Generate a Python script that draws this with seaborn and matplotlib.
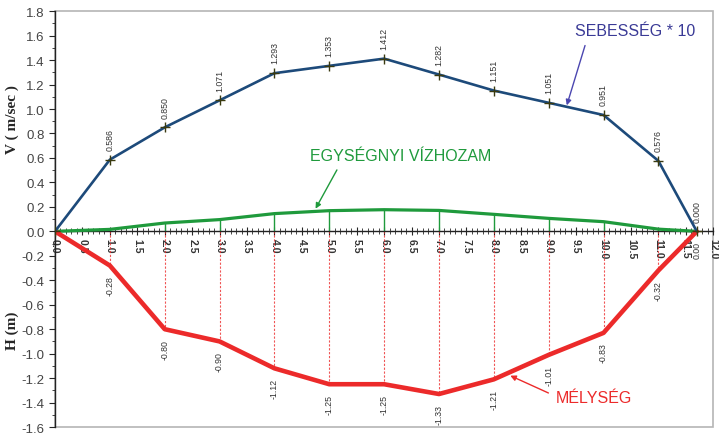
import matplotlib
matplotlib.use("Agg")
import matplotlib.pyplot as plt
import matplotlib.patches as mpatches
from matplotlib.ticker import MultipleLocator, FormatStrFormatter
import numpy as np
import pandas as pd
import seaborn as sns

# Station positions across the cross-section (m)
stations = [0.0, 1.0, 2.0, 3.0, 4.0, 5.0, 6.0, 7.0, 8.0, 9.0, 10.0, 11.0, 11.7]
# Velocity (m/sec, shown x10)
velocity = [0.0, 0.586, 0.850, 1.071, 1.293, 1.353, 1.412, 1.282, 1.151, 1.051, 0.951, 0.576, 0.000]
# Water depth (m)
depth = [0.0, -0.28, -0.80, -0.90, -1.12, -1.25, -1.25, -1.33, -1.21, -1.01, -0.83, -0.32, 0.00]
# Unit discharge
unit_q = [0.0, 0.016, 0.068, 0.096, 0.145, 0.169, 0.177, 0.171, 0.139, 0.106, 0.079, 0.018, 0.0]

vel_labels = ["", "0.586", "0.850", "1.071", "1.293", "1.353", "1.412", "1.282",
              "1.151", "1.051", "0.951", "0.576", "0.000"]
depth_labels = ["", "-0.28", "-0.80", "-0.90", "-1.12", "-1.25", "-1.25", "-1.33",
                "-1.21", "-1.01", "-0.83", "-0.32", "0.00"]

df = pd.DataFrame({"x": stations, "v": velocity, "h": depth, "q": unit_q})

sns.set_style("white")
plt.rcParams["font.family"] = ["Liberation Sans", "DejaVu Sans"]

BLUE = "#1d4a7a"
GREEN = "#1f9a3c"
RED = "#ec2a2a"

fig = plt.figure(figsize=(7.19, 4.35), dpi=100)
ax = fig.add_axes([0.0765, 0.016, 0.9155, 0.956])

# drop lines from the axis to each station
for x, q, h in zip(stations[1:-1], unit_q[1:-1], depth[1:-1]):
    ax.plot([x, x], [0, h], color=RED, lw=0.8, ls=(0, (2, 1.5)), alpha=0.8, zorder=2)
    ax.plot([x, x], [0, q], color=GREEN, lw=1.0, zorder=2)

sns.lineplot(data=df, x="x", y="v", ax=ax, color=BLUE, lw=1.9, sort=False,
             marker="+", markersize=7, markeredgecolor="#3a3a10", markeredgewidth=1.0, zorder=4)
sns.lineplot(data=df, x="x", y="q", ax=ax, color=GREEN, lw=2.3, sort=False, zorder=3)
sns.lineplot(data=df, x="x", y="h", ax=ax, color=RED, lw=3.3, sort=False, zorder=3)

# value labels
for x, v, t in zip(stations, velocity, vel_labels):
    if t:
        ax.annotate(t, (x, v), xytext=(0, 7), textcoords="offset points", rotation=90,
                    ha="center", va="bottom", fontsize=6.3, color="#333333")
for x, h, t in zip(stations, depth, depth_labels):
    if t:
        ax.annotate(t, (x, h), xytext=(0, -7), textcoords="offset points", rotation=90,
                    ha="center", va="top", fontsize=6.3, color="#333333")

ax.set_xlim(0, 12)
ax.set_ylim(-1.6, 1.8)
ax.yaxis.set_major_locator(MultipleLocator(0.2))
ax.yaxis.set_minor_locator(MultipleLocator(0.1))
ax.yaxis.set_major_formatter(FormatStrFormatter("%.1f"))
ax.xaxis.set_major_locator(MultipleLocator(0.5))
ax.xaxis.set_minor_locator(MultipleLocator(0.1))
ax.xaxis.set_major_formatter(FormatStrFormatter("%.1f"))

ax.spines["bottom"].set_position(("data", 0))
ax.spines["bottom"].set_color("#222222")
ax.spines["bottom"].set_linewidth(1.0)
ax.spines["left"].set_color("#222222")
ax.spines["left"].set_linewidth(1.0)
ax.spines["top"].set_visible(False)
ax.spines["right"].set_visible(False)
ax.add_patch(mpatches.Rectangle((0, 0), 1, 1, transform=ax.transAxes, fill=False,
                                edgecolor="#b5b5b5", lw=1.2, zorder=0, clip_on=False))

ax.tick_params(axis="y", which="major", direction="out", length=4, width=0.8,
               labelsize=9.5, labelcolor="#444444", left=True)
ax.tick_params(axis="y", which="minor", direction="out", length=2, width=0.6, left=True)
ax.tick_params(axis="x", which="major", direction="inout", length=6, width=0.8,
               labelsize=7.5, labelrotation=270, pad=2, bottom=True)
ax.tick_params(axis="x", which="minor", direction="inout", length=4, width=0.6, bottom=True)
for lab in ax.get_xticklabels():
    lab.set_fontweight("bold")
    lab.set_color("#333333")
ax.set_xlabel("")
ax.set_ylabel("")

fig.text(0.017, 0.725, "V ( m/sec )", rotation=90, ha="center", va="center",
         fontsize=11, fontweight="bold", family="Liberation Serif")
fig.text(0.017, 0.24, "H (m)", rotation=90, ha="center", va="center",
         fontsize=11, fontweight="bold", family="Liberation Serif")

ax.annotate("SEBESSÉG * 10", xy=(9.33, 1.03), xytext=(10.58, 1.64), color="#3a3a96",
            fontsize=11.5, ha="center", va="center",
            arrowprops=dict(arrowstyle="-|>", color="#4b46b0", lw=1.0, mutation_scale=8,
                            relpos=(0.1, 0.0), shrinkA=3, shrinkB=0))
ax.annotate("EGYSÉGNYI VÍZHOZAM", xy=(4.75, 0.185), xytext=(6.3, 0.62), color=GREEN,
            fontsize=11.5, ha="center", va="center",
            arrowprops=dict(arrowstyle="-|>", color=GREEN, lw=1.0, mutation_scale=8,
                            relpos=(0.17, 0.0), shrinkA=3, shrinkB=0))
ax.annotate("MÉLYSÉG", xy=(8.3, -1.18), xytext=(9.82, -1.36), color=RED,
            fontsize=11.5, ha="center", va="center",
            arrowprops=dict(arrowstyle="-|>", color=RED, lw=1.0, mutation_scale=8,
                            relpos=(0.0, 0.6), shrinkA=3, shrinkB=0))

fig.savefig("out.png", dpi=100)
